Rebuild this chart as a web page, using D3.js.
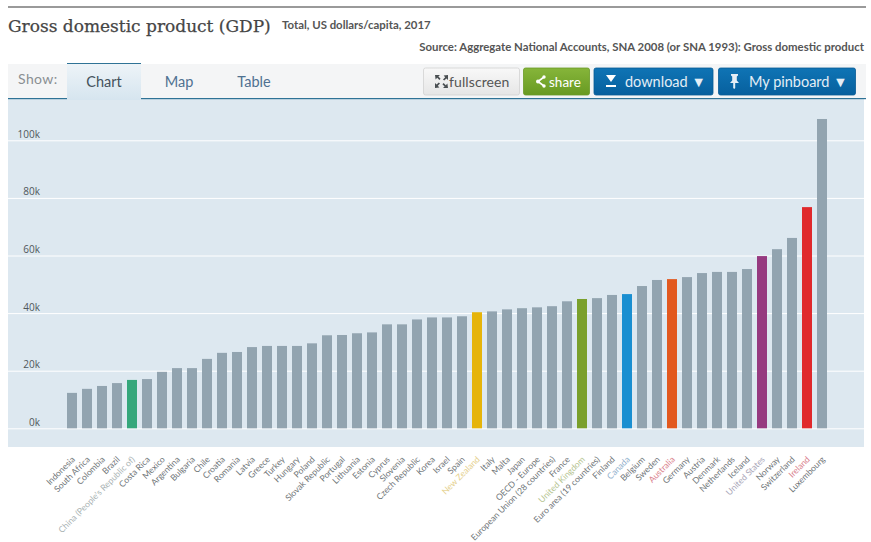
<!DOCTYPE html>
<html>
<head>
<meta charset="utf-8">
<style>
  html, body { margin: 0; padding: 0; background: #fff; }
  svg { display: block; }
  text { font-family: Lato, sans-serif; }
</style>
</head>
<body>
<svg></svg>
<script src="https://cdn.jsdelivr.net/npm/d3@7"></script>
<script>
var WIDTH = 871
  , HEIGHT = 542
  , BAR_COLOR = '#92a4b0'
  , LABEL_COLOR = '#6f7578'

var countries = [
  'Indonesia', 'South Africa', 'Colombia', 'Brazil', "China (People's Republic of)", 'Costa Rica',
  'Mexico', 'Argentina', 'Bulgaria', 'Chile', 'Croatia', 'Romania', 'Latvia', 'Greece', 'Turkey',
  'Hungary', 'Poland', 'Slovak Republic', 'Portugal', 'Lithuania', 'Estonia', 'Cyprus', 'Slovenia',
  'Czech Republic', 'Korea', 'Israel', 'Spain', 'New Zealand', 'Italy', 'Malta', 'Japan',
  'OECD - Europe', 'European Union (28 countries)', 'France', 'United Kingdom',
  'Euro area (19 countries)', 'Finland', 'Canada', 'Belgium', 'Sweden', 'Australia', 'Germany',
  'Austria', 'Denmark', 'Netherlands', 'Iceland', 'United States', 'Norway', 'Switzerland',
  'Ireland', 'Luxembourg'
]

// thousands of US dollars per capita
var gdp = [
  12.3, 13.7, 14.7, 15.7, 16.8, 17.1,
  19.6, 20.9, 20.9, 24.1, 26.2, 26.5, 28.2, 28.6, 28.6,
  28.6, 29.5, 32.3, 32.4, 33.0, 33.3, 36.1, 36.1,
  37.8, 38.5, 38.5, 38.9, 40.3, 40.6, 41.3, 41.7,
  42.0, 42.4, 44.1, 44.9,
  45.2, 46.3, 46.6, 49.4, 51.5, 51.8, 52.5,
  53.9, 54.3, 54.3, 55.3, 59.8, 62.2, 66.1,
  76.8, 107.4
]

var yTicks = [0, 20, 40, 60, 80, 100]

var highlightNames = ["China (People's Republic of)", 'New Zealand', 'United Kingdom', 'Canada', 'Australia', 'United States', 'Ireland']
var highlightBars = ['#35a77b', '#e6b40a', '#7aa02c', '#1a8fd1', '#e2591f', '#963a80', '#e0292c']
var highlightLabels = ['#a9b3b3', '#e5d08c', '#b5c490', '#8fb0cc', '#d9808c', '#a9a6b8', '#d9808c']

var barColor = d3.scaleOrdinal().domain(highlightNames).range(highlightBars).unknown(BAR_COLOR)
var labelColor = d3.scaleOrdinal().domain(highlightNames).range(highlightLabels).unknown(LABEL_COLOR)

var svg = d3.select('svg').attr('width', WIDTH).attr('height', HEIGHT)
var defs = svg.append('defs')

function gradient(id, top, bottom) {
  var g = defs.append('linearGradient').attr('id', id).attr('x1', 0).attr('x2', 0).attr('y1', 0).attr('y2', 1)
  g.append('stop').attr('offset', 0).attr('stop-color', top)
  g.append('stop').attr('offset', 1).attr('stop-color', bottom)
}
gradient('tabFill', '#eef4f8', '#d6e5ef')
gradient('greyBtn', '#f8f8f8', '#e6e6e6')
gradient('greenBtn', '#86b53a', '#689a22')
gradient('blueBtn', '#0f74b5', '#07609e')

// page header
svg.append('rect').attr('x', 8).attr('y', 6).attr('width', 858).attr('height', 2).attr('fill', '#9a9a9a')

svg.append('text').attr('x', 8).attr('y', 32)
  .style('font-family', '"DejaVu Serif", serif').style('font-size', '17px').attr('fill', '#454545')
  .attr('stroke', '#454545').attr('stroke-width', 0.25)
  .text('Gross domestic product (GDP)')

svg.append('text').attr('x', 282).attr('y', 29)
  .style('font-size', '11.4px').style('font-weight', 700).attr('fill', '#555')
  .text('Total, US dollars/capita, 2017')

svg.append('text').attr('x', 864).attr('y', 51).attr('text-anchor', 'end')
  .style('font-size', '11.4px').style('font-weight', 700).attr('fill', '#555')
  .text('Source: Aggregate National Accounts, SNA 2008 (or SNA 1993): Gross domestic product')

// toolbar and plot background
svg.append('rect').attr('x', 8).attr('y', 64).attr('width', 858).attr('height', 34).attr('fill', '#f4f5f6')
svg.append('rect').attr('x', 8).attr('y', 98).attr('width', 856).attr('height', 349).attr('fill', '#dde8f0')
svg.append('rect').attr('x', 8).attr('y', 98).attr('width', 858).attr('height', 1.2).attr('fill', '#2f7396')

svg.append('rect').attr('x', 67).attr('y', 63).attr('width', 74).attr('height', 37).attr('fill', 'url(#tabFill)')
svg.append('rect').attr('x', 67).attr('y', 63).attr('width', 74).attr('height', 1).attr('fill', '#2f7396')

svg.append('text').attr('x', 18).attr('y', 84)
  .style('font-size', '14px').style('letter-spacing', '.4px').attr('fill', '#8a8f92').text('Show:')

var tabNames = ['Chart', 'Map', 'Table']
var tabX = [104, 179, 254]
var tabColors = ['#44525c', '#4f7191', '#4f7191']
svg.selectAll('.tab').data(tabNames).enter().append('text')
  .attr('class', 'tab')
  .attr('x', function(d, i) { return tabX[i] })
  .attr('y', 87)
  .attr('text-anchor', 'middle')
  .attr('fill', function(d, i) { return tabColors[i] })
  .style('font-size', '14.5px')
  .text(function(d) { return d })

// buttons
function button(x, w, fill, stroke) {
  svg.append('rect').attr('x', x).attr('y', 68).attr('width', w).attr('height', 27).attr('rx', 2)
    .attr('fill', fill).attr('stroke', stroke).attr('stroke-width', 0.8)
}
function buttonText(x, label, color, size) {
  svg.append('text').attr('x', x).attr('y', 86.5).attr('fill', color)
    .style('font-size', size + 'px').text(label)
}

button(423.5, 96, 'url(#greyBtn)', '#d2d2d2')
button(523.5, 66, 'url(#greenBtn)', '#6a9a26')
button(594, 119, 'url(#blueBtn)', '#075a94')
button(718.5, 137, 'url(#blueBtn)', '#075a94')

// fullscreen arrows
svg.append('path')
  .attr('d', 'M435 75h5l-1.6 1.6 2.2 2.2-1.2 1.2-2.2-2.2-1.6 1.6zM448 75v5l-1.6-1.6-2.2 2.2-1.2-1.2 2.2-2.2-1.6-1.6zM435 88v-5l1.6 1.6 2.2-2.2 1.2 1.2-2.2 2.2 1.6 1.6zM448 88h-5l1.6-1.6-2.2-2.2 1.2-1.2 2.2 2.2 1.6-1.6z')
  .attr('fill', '#4a4f52')
svg.append('text').attr('x', 449).attr('y', 86.5).attr('fill', '#555')
  .style('font-size', '14px').style('letter-spacing', '.1px').text('fullscreen')

// share icon
svg.append('path').attr('d', 'M544 77l-6 4.5 6 4.5').attr('fill', 'none').attr('stroke', '#fff').attr('stroke-width', 1.6)
svg.append('circle').attr('cx', 538).attr('cy', 81.5).attr('r', 2).attr('fill', '#fff')
svg.append('circle').attr('cx', 544).attr('cy', 77).attr('r', 1.7).attr('fill', '#fff')
svg.append('circle').attr('cx', 544).attr('cy', 86).attr('r', 1.7).attr('fill', '#fff')
buttonText(549, 'share', '#fff', 13.5)

// download icon
svg.append('path').attr('d', 'M606 75h10l-5 7z').attr('fill', '#fff')
svg.append('rect').attr('x', 606).attr('y', 85).attr('width', 10).attr('height', 2).attr('fill', '#fff')
buttonText(625, 'download ▼', '#e4eef6', 14.5)

// pin icon
svg.append('path').attr('d', 'M731 74h7v1.5l-1.2 1v4l2.2 2.5h-3.8v5l-1 1-1-1v-5h-3.2l2.2-2.5v-4l-1.2-1z').attr('fill', '#e4eef6')
buttonText(749, 'My pinboard ▼', '#e4eef6', 14.5)

// chart
var x = d3.scaleBand()
  .domain(countries)
  .range([64.5, 829.5])
  .paddingInner(1 / 3)
  .paddingOuter(1 / 6)

var y = d3.scaleLinear().domain([0, 100]).range([428.3, 140.3])

var yAxis = svg.append('g')
  .attr('transform', 'translate(8,0)')
  .call(d3.axisRight(y).tickValues(yTicks).tickSize(856).tickFormat(function(d) { return d + 'k' }))

yAxis.select('.domain').remove()
yAxis.selectAll('.tick line').attr('stroke', '#fff').attr('stroke-width', 1)
yAxis.selectAll('.tick text')
  .attr('x', 32)
  .attr('dy', -3)
  .attr('text-anchor', 'end')
  .style('font-family', '"Open Sans", sans-serif')
  .style('font-size', '10px')
  .attr('fill', '#4f575b')

svg.append('g').selectAll('rect')
  .data(gdp)
  .enter().append('rect')
  .attr('x', function(d, i) { return x(countries[i]) })
  .attr('y', function(d) { return y(d) })
  .attr('width', x.bandwidth())
  .attr('height', function(d) { return y(0) - y(d) })
  .attr('fill', function(d, i) { return barColor(countries[i]) })

var xAxis = svg.append('g')
  .attr('transform', 'translate(0,447)')
  .call(d3.axisBottom(x).tickSize(0))

xAxis.select('.domain').remove()
xAxis.selectAll('.tick text')
  .attr('x', 0)
  .attr('y', 0)
  .attr('dy', 0)
  .attr('text-anchor', 'end')
  .attr('transform', 'translate(3.5,13) rotate(-45)')
  .style('font-family', 'Lato, sans-serif')
  .style('font-size', '8.6px')
  .attr('fill', function(d) { return labelColor(d) })
</script>
</body>
</html>
